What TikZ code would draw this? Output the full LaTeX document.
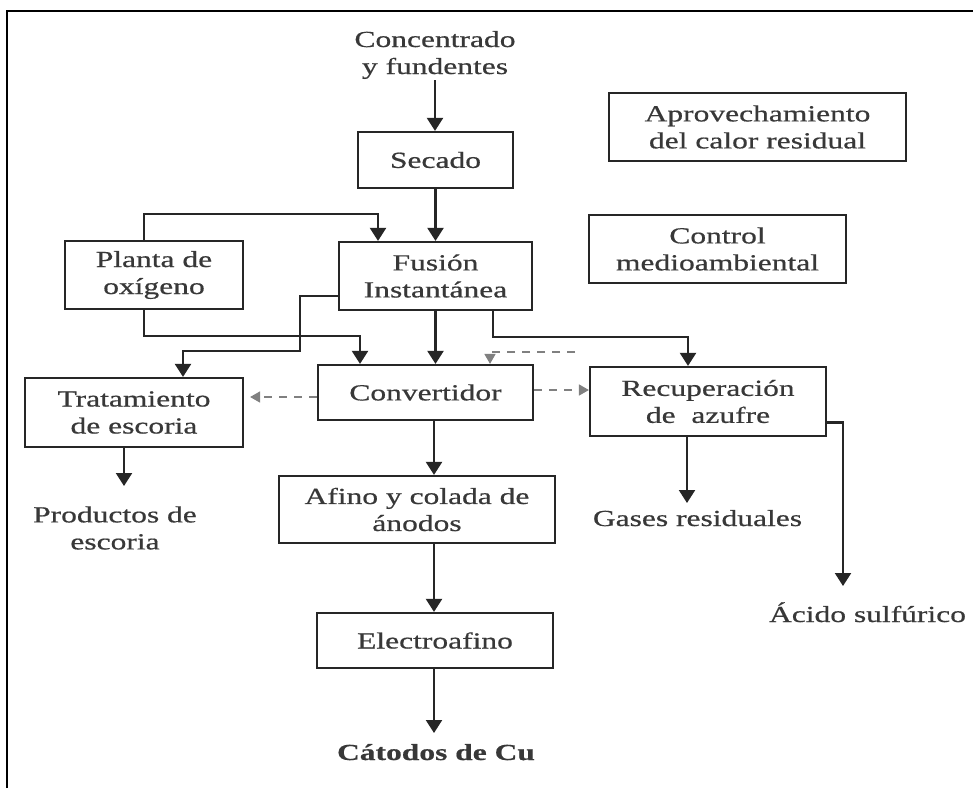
\documentclass[tikz,border=0pt]{standalone}
\usepackage{fontspec}
\setmainfont{Liberation Serif}[FakeStretch=1.37,FakeBold=0.6]
\usetikzlibrary{arrows.meta}
\definecolor{ink}{HTML}{262626}
\definecolor{txt}{HTML}{383838}
\begin{document}
\begin{tikzpicture}[x=1pt,y=-1pt,
  box/.style={draw=ink, line width=2.2pt, inner sep=0pt, align=center,
    font=\fontsize{23}{27}\selectfont, text=txt},
  lbl/.style={inner sep=1pt, align=center, font=\fontsize{23}{27}\selectfont, text=txt},
  flow/.style={draw=ink, line width=2.2pt, -{Triangle[width=16pt,length=13pt]}},
  dflow/.style={draw=gray, line width=1.6pt, dash pattern=on 8pt off 7pt,
    -{Triangle[width=11pt,length=10pt]}},
]
\useasboundingbox (0,0) rectangle (973,788);
\fill[white] (0,0) rectangle (973,788);
% frame
\draw[black, line width=2.8pt] (7,788) -- (7,11) -- (973,11);

% process boxes
\node[box, minimum width=155pt, minimum height=56pt] (secado) at (435.5,160) {Secado};
\node[box, minimum width=193pt, minimum height=68pt] (fusion) at (435.5,276) {Fusión\\Instantánea};
\node[box, minimum width=178pt, minimum height=68pt] (planta) at (154,275) {Planta de\\oxígeno};
\node[box, minimum width=215pt, minimum height=55pt] (conv) at (425.5,392.5) {Convertidor};
\node[box, minimum width=236pt, minimum height=69pt] (recup) at (708,401.5) {Recuperación\\de\ \ azufre};
\node[box, minimum width=218pt, minimum height=69pt] (trat) at (134,412.5) {Tratamiento\\de escoria};
\node[box, minimum width=276pt, minimum height=67pt] (afino) at (417,509.5) {Afino y colada de\\ánodos};
\node[box, minimum width=236pt, minimum height=55pt] (electro) at (435,640.5) {Electroafino};
\node[box, minimum width=297pt, minimum height=68pt] (aprov) at (757.5,127) {Aprovechamiento\\del calor residual};
\node[box, minimum width=257pt, minimum height=68pt] (control) at (717.5,249) {Control\\medioambiental};

% inputs and products
\node[lbl] (concentrado) at (435,55) {Concentrado\\y fundentes};
\node[lbl] (productos) at (115,528) {Productos de\\escoria};
\node[lbl, anchor=base] (gases) at (697.5,526) {Gases residuales};
\node[lbl, anchor=base] (acido) at (867.5,622) {Ácido sulfúrico};
\node[lbl, anchor=base, font=\fontsize{23}{27}\selectfont\bfseries] (catodos) at (436,760) {Cátodos de Cu};

% helper points of the routed lines
\coordinate (k1) at (378,214);
\coordinate (k2) at (360,336);
\coordinate (k3) at (688,337);
\coordinate (k4) at (300,351);
\coordinate (k5) at (183,351);
\coordinate (cx) at (434,0);
\coordinate (dd) at (575,352);
\coordinate (ptip) at (124,486);
\coordinate (gtip) at (687,503);
\coordinate (atip) at (843,586);
\coordinate (ctip) at (434,733);

% main flow
\draw[flow] (concentrado.south) -- (concentrado.south |- secado.north);
\draw[flow] (secado.south) -- (fusion.north);
\draw[flow] ([xshift=-10pt]planta.north) |- (k1) -- (k1 |- fusion.north);
\draw[flow] ([xshift=-10pt]planta.south) |- (k2) -- (k2 |- conv.north);
\draw[flow] ([yshift=-20pt]fusion.west) -| (k4) -| (k5 |- trat.north);
\draw[flow] (fusion.south) -- (fusion.south |- conv.north);
\draw[flow] ([xshift=57.5pt]fusion.south) |- (k3) -- (k3 |- recup.north);
\draw[flow] (conv.south -| cx) -- (afino.north -| cx);
\draw[flow] (afino.south -| cx) -- (electro.north -| cx);
\draw[flow] (electro.south -| cx) -- (ctip);
\draw[flow] (trat.south -| ptip) -- (ptip);
\draw[flow] (recup.south -| gtip) -- (gtip);
\draw[flow] ([yshift=-21pt]recup.east) -| (atip);

% secondary (dashed) streams
\draw[dflow] (dd) -| ([xshift=64.5pt]conv.north);
\draw[dflow, shorten >=6pt] ([yshift=-4.5pt]conv.west) -- ([yshift=-4.5pt]conv.west -| trat.east);
\draw[dflow] ([yshift=2.5pt]conv.east) -- ([yshift=2.5pt]conv.east -| recup.west);
\end{tikzpicture}
\end{document}
